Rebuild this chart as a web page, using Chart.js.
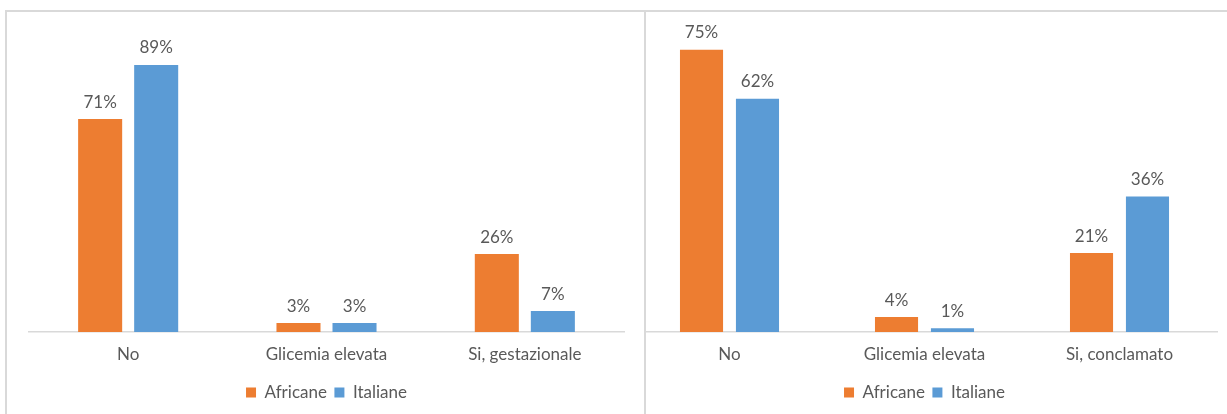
<!DOCTYPE html>
<html>
<head>
<meta charset="utf-8">
<script src="https://cdn.jsdelivr.net/npm/chart.js@4.4.0/dist/chart.umd.min.js"></script>
<style>
  html, body { margin:0; padding:0; background:#fff; width:1227px; height:414px; overflow:hidden; }
  .box { position:absolute; top:10px; height:404px; background:#fff; }
  #leftBox { left:5px; width:641px; z-index:2; }
  #rightBox { left:632px; width:595px; z-index:1; }
  canvas { position:absolute; left:0; top:0; }
  .line { position:absolute; background:#d9d9d9; z-index:3; }
</style>
</head>
<body>
<div class="box" id="leftBox"><canvas id="cL" width="640" height="404"></canvas></div>
<div class="box" id="rightBox"><canvas id="cR" width="595" height="404"></canvas></div>
<div class="line" style="left:5px;top:10px;width:1222px;height:2px;"></div>
<div class="line" style="left:5px;top:10px;width:2px;height:404px;"></div>
<div class="line" style="left:644px;top:10px;width:2px;height:404px;"></div>
<script>
// ---- data ----
const seriesNames = ['Africane', 'Italiane'];
const categoriesLeft = ['No', 'Glicemia elevata', 'Si, gestazionale'];
const africaneLeft = [71, 3, 26];
const italianeLeft = [89, 3, 7];
const categoriesRight = ['No', 'Glicemia elevata', 'Si, conclamato'];
const africaneRight = [75, 4, 21];
const italianeRight = [62, 1, 36];

const ORANGE = '#ED7D31';
const BLUE = '#5B9BD5';
const TEXT = '#595959';
const FONT = 'Lato, "Open Sans", sans-serif';
const FSIZE = 17;

const valueLabels = {
  id: 'valueLabels',
  afterDatasetsDraw(chart) {
    const ctx = chart.ctx;
    ctx.save();
    ctx.fillStyle = TEXT;
    ctx.font = FSIZE + 'px ' + FONT;
    ctx.textAlign = 'center';
    ctx.textBaseline = 'middle';
    chart.data.datasets.forEach((ds, i) => {
      const meta = chart.getDatasetMeta(i);
      meta.data.forEach((bar, j) => {
        ctx.fillText(ds.data[j] + '%', bar.x, bar.y - 17);
      });
    });
    ctx.restore();
  }
};

function makeChart(id, cats, a, b, yMax, pad, catPct, barPct) {
  return new Chart(document.getElementById(id), {
    type: 'bar',
    data: {
      labels: cats,
      datasets: [
        { label: seriesNames[0], data: a, backgroundColor: ORANGE, categoryPercentage: catPct, barPercentage: barPct },
        { label: seriesNames[1], data: b, backgroundColor: BLUE, categoryPercentage: catPct, barPercentage: barPct }
      ]
    },
    options: {
      responsive: false,
      animation: false,
      devicePixelRatio: 1,
      layout: { padding: pad },
      plugins: {
        tooltip: { enabled: false },
        legend: {
          position: 'bottom',
          labels: {
            color: TEXT,
            font: { family: FONT, size: FSIZE },
            boxWidth: 10,
            boxHeight: 10,
            padding: 7.5
          }
        }
      },
      scales: {
        x: {
          grid: { display: false, drawTicks: false },
          border: { display: true, color: '#d9d9d9', width: 1.5 },
          ticks: { color: TEXT, font: { family: FONT, size: FSIZE }, padding: 12 }
        },
        y: { display: false, min: 0, max: yMax }
      }
    },
    plugins: [valueLabels]
  });
}

makeChart('cL', categoriesLeft, africaneLeft, italianeLeft, 100,
  { left: 24, right: 21, top: 22, bottom: 3 }, 0.565, 0.786);
makeChart('cR', categoriesRight, africaneRight, italianeRight, 80,
  { left: 0, right: 10, top: 21, bottom: 3 }, 0.574, 0.77);
</script>
</body>
</html>
